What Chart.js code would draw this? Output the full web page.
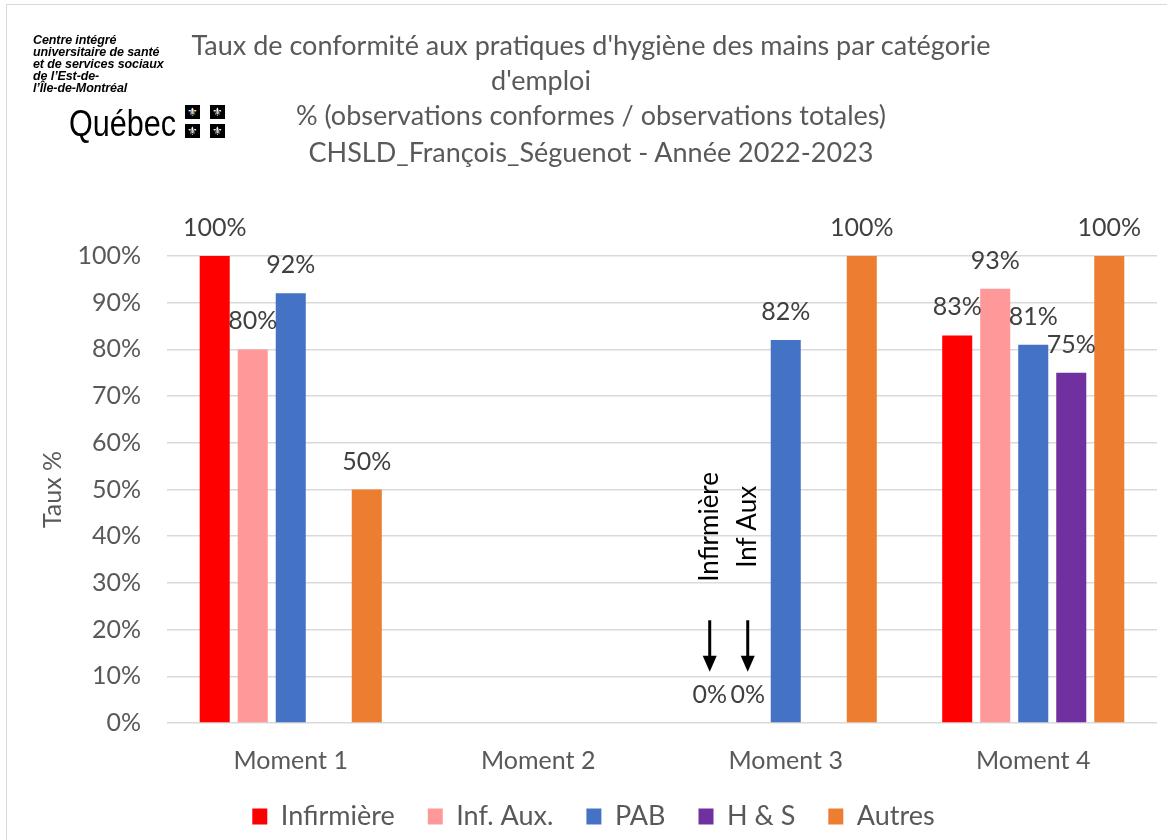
<!DOCTYPE html>
<html lang="fr">
<head>
<meta charset="utf-8">
<title>Taux de conformité hygiène des mains</title>
<script src="https://cdn.jsdelivr.net/npm/chart.js@4"></script>
<style>
    html, body { margin: 0; padding: 0; background: #fff; }
    #wrap { position: relative; width: 1167px; height: 840px; overflow: hidden; }
    #frame {
        position: absolute; left: 6px; top: 4px; width: 1200px; height: 900px;
        border: 1px solid #d9d9d9; box-sizing: border-box;
    }
    #chart { position: absolute; left: 0; top: 0; }
    .title-line {
        position: absolute; left: 0; width: 1182px; text-align: center;
        font-family: Lato, sans-serif; font-size: 27px; color: #595959;
        line-height: 30px; white-space: nowrap;
    }
    #org {
        position: absolute; left: 33px; top: 34px;
        font-family: "Liberation Sans", Arial, sans-serif; font-weight: bold; font-style: italic;
        font-size: 12.5px; line-height: 12px; color: #000; letter-spacing: -0.1px;
    }
    #qc {
        position: absolute; left: 69px; top: 106px;
        font-family: "Liberation Sans", Arial, sans-serif; font-size: 36px; color: #000;
        transform: scaleX(0.85); transform-origin: left top; line-height: 36px;
    }
    .flag {
        position: absolute; width: 15px; height: 14px; background: #000; color: #fff;
        font-family: "DejaVu Sans", sans-serif; font-size: 12px; line-height: 14px; text-align: center;
    }
</style>
</head>
<body>
<div id="wrap">
    <div id="frame"></div>
    <canvas id="chart"></canvas>
    <div id="org">Centre intégré<br>universitaire de santé<br>et de services sociaux<br>de l’Est-de-<br>l’Île-de-Montréal</div>
    <div id="qc">Québec</div>
    <div class="flag" style="left:185px;top:105px">⚜</div>
    <div class="flag" style="left:210px;top:105px">⚜</div>
    <div class="flag" style="left:185px;top:124px">⚜</div>
    <div class="flag" style="left:210px;top:124px">⚜</div>
    <div class="title-line" style="top:30px">Taux de conformité aux pratiques d'hygiène des mains par catégorie</div>
    <div class="title-line" style="top:65px; width:1082px">d'emploi</div>
    <div class="title-line" style="top:100px">% (observations conformes / observations totales)</div>
    <div class="title-line" style="top:137px">CHSLD_François_Séguenot - Année 2022-2023</div>
</div>
<script>
// categories and series values (%), null = no observation
const moments = ['Moment 1', 'Moment 2', 'Moment 3', 'Moment 4'];
const infirmiere = [100, null, 0, 83];
const infAux = [80, null, 0, 93];
const pab = [92, null, 82, 81];
const hs = [null, null, null, 75];
const autres = [50, null, 100, 100];

const seriesNames = ['Infirmière', 'Inf. Aux.', 'PAB', 'H & S', 'Autres'];
const seriesColors = ['#ff0000', '#ff9999', '#4472c4', '#7030a0', '#ed7d31'];
const seriesValues = [infirmiere, infAux, pab, hs, autres];

// vertical notes with arrows above the 0% bars of Moment 3
const noteMoment = 2;
const notes = [
    { series: 0, text: 'Infirmière' },
    { series: 1, text: 'Inf Aux' }
];
const noteTextAt = 42;
const arrowFrom = 22;
const arrowTo = 11;

const FONT = 'Lato, sans-serif';
const textColor = '#595959';

/** Value labels above each bar */
const barLabels = {
    id: 'barLabels',
    afterDatasetsDraw(chart) {
        const ctx = chart.ctx;
        ctx.save();
        ctx.font = '25px ' + FONT;
        ctx.fillStyle = '#404040';
        ctx.textAlign = 'center';
        ctx.textBaseline = 'middle';
        chart.data.datasets.forEach((ds, i) => {
            const meta = chart.getDatasetMeta(i);
            meta.data.forEach((bar, j) => {
                const v = ds.data[j];
                if (v === null || v === undefined) return;
                ctx.fillText(Math.round(v) + '%', bar.x, bar.y - 28);
            });
        });
        ctx.restore();
    }
};

/** Rotated notes and arrows pointing at the empty bars */
const arrowNotes = {
    id: 'arrowNotes',
    afterDatasetsDraw(chart) {
        const ctx = chart.ctx;
        const y = chart.scales.y;
        ctx.save();
        notes.forEach(n => {
            const bar = chart.getDatasetMeta(n.series).data[noteMoment];
            const x = bar.x;
            // text
            ctx.save();
            ctx.translate(x, y.getPixelForValue(noteTextAt));
            ctx.rotate(-Math.PI / 2);
            ctx.font = '26px ' + FONT;
            ctx.fillStyle = '#000';
            ctx.textAlign = 'center';
            ctx.textBaseline = 'middle';
            ctx.fillText(n.text, 0, 0);
            ctx.restore();
            // arrow
            const y0 = y.getPixelForValue(arrowFrom);
            const y1 = y.getPixelForValue(arrowTo);
            ctx.strokeStyle = '#000';
            ctx.fillStyle = '#000';
            ctx.lineWidth = 3;
            ctx.beginPath();
            ctx.moveTo(x, y0);
            ctx.lineTo(x, y1 - 14);
            ctx.stroke();
            ctx.beginPath();
            ctx.moveTo(x - 7, y1 - 16);
            ctx.lineTo(x + 7, y1 - 16);
            ctx.lineTo(x, y1);
            ctx.closePath();
            ctx.fill();
        });
        ctx.restore();
    }
};

const datasets = seriesNames.map((name, i) => ({
    label: name,
    data: seriesValues[i],
    backgroundColor: seriesColors[i],
    borderWidth: 0,
    categoryPercentage: 0.768,
    barPercentage: 0.79
}));

document.getElementById('chart').width = 1167;
document.getElementById('chart').height = 840;

new Chart(document.getElementById('chart'), {
    type: 'bar',
    data: { labels: moments, datasets: datasets },
    plugins: [barLabels, arrowNotes],
    options: {
        responsive: false,
        animation: false,
        layout: { padding: { left: 30, right: 10, top: 256, bottom: 0 } },
        plugins: {
            title: { display: false },
            tooltip: { enabled: false },
            legend: {
                position: 'bottom',
                labels: {
                    color: textColor,
                    font: { family: FONT, size: 27 },
                    boxWidth: 15,
                    boxHeight: 16,
                    padding: 33
                }
            }
        },
        scales: {
            x: {
                grid: { display: false, drawTicks: false },
                border: { display: false },
                ticks: { color: textColor, font: { family: FONT, size: 25 }, padding: 23 },
                afterFit(scale) { scale.height = 47; }
            },
            y: {
                min: 0,
                max: 100,
                ticks: {
                    stepSize: 10,
                    color: textColor,
                    font: { family: FONT, size: 25 },
                    padding: 26,
                    callback: v => v + '%'
                },
                grid: { color: '#d9d9d9', lineWidth: 1.5, drawTicks: false },
                border: { display: false },
                title: {
                    display: true,
                    text: 'Taux %',
                    color: textColor,
                    font: { family: FONT, size: 25 },
                    padding: { top: 8, bottom: 0 }
                },
                afterFit(scale) { scale.width = 137; }
            }
        }
    }
});
</script>
</body>
</html>
